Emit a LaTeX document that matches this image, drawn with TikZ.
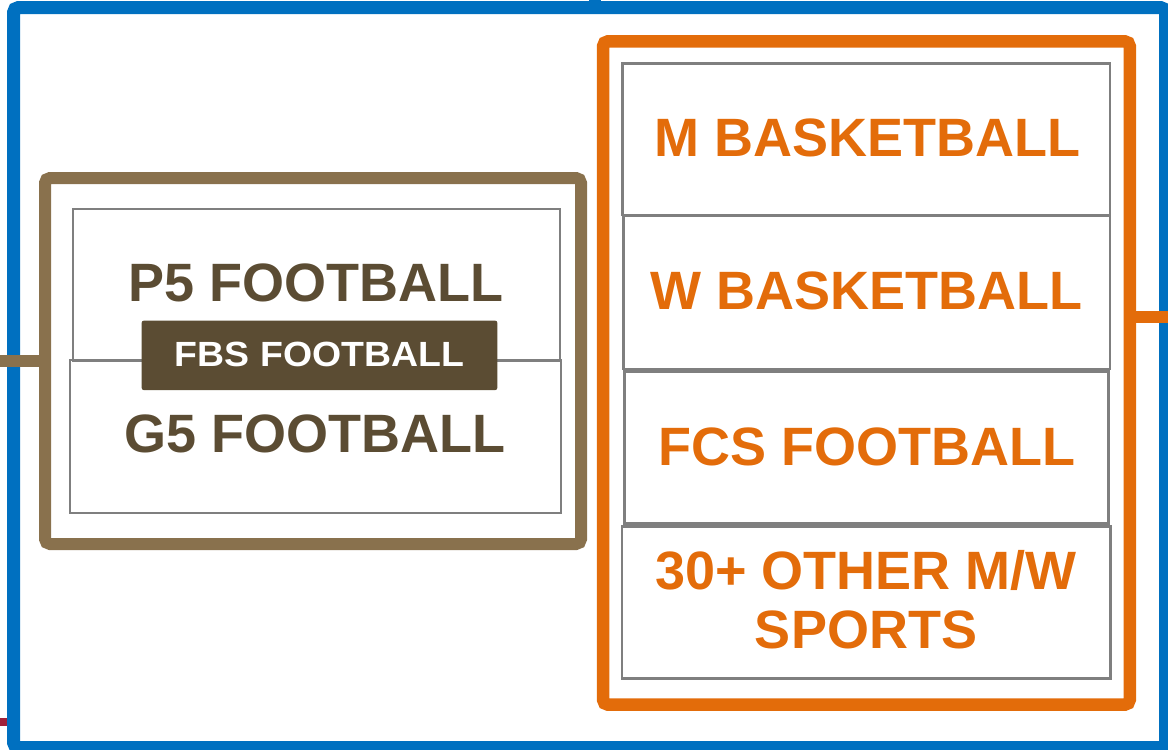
\documentclass[tikz,border=0pt]{standalone}
\usepackage{fontspec}
\setmainfont{Liberation Sans}
\definecolor{blueF}{HTML}{0070C0}
\definecolor{orangeF}{HTML}{E36C0A}
\definecolor{brownF}{HTML}{89714D}
\definecolor{brownD}{HTML}{5B4C33}
\definecolor{grayB}{HTML}{7F7F7F}
\definecolor{redS}{HTML}{A0213A}
\tikzset{
  frame/.style={draw=#1, rounded corners=5pt, inner sep=0pt},
  gbox/.style={draw=grayB, line width=2.5pt, inner sep=0pt},
  bigtxt/.style={text=#1, inner sep=0pt, align=center,
    font=\bfseries\fontsize{54}{58.3}\selectfont},
  fbslabel/.style={fill=brownD, text=white, rounded corners=2pt, inner sep=0pt,
    text depth=3pt, font=\bfseries\fontsize{35}{40}\selectfont}
}
\begin{document}
\begin{tikzpicture}[x=1pt,y=-1pt]
\useasboundingbox (0,0) rectangle (1168,750);
% small stubs under the outer frame
\coordinate (rs) at (0,722);
\coordinate (tn) at (595,0);
% outer blue frame
\node[frame=blueF, line width=13pt, minimum width=1152pt, minimum height=740pt] (outer) at (589.5,377.5) {};
\draw[redS, line width=8pt] (rs) -- (rs -| outer.west);
\draw[blueF, line width=11.5pt] (tn) -- (tn |- outer.north);
% left brown container
\node[frame=brownF, line width=12pt, minimum width=536pt, minimum height=366pt] (brown) at (313,361) {};
\coordinate (bl) at (0,360.5);
\draw[brownF, line width=12pt] (bl) -- (bl -| brown.west);
% right orange container
\node[frame=orangeF, line width=12.5pt, minimum width=526.7pt, minimum height=663.4pt] (orange) at (866.4,373) {};
\coordinate (or) at (1168,317);
\draw[orangeF, line width=12pt] (or -| orange.east) -- (or);
% left inner boxes
\node[gbox, minimum width=487pt, minimum height=152pt] (p5box) at (316.5,285) {};
\node[gbox, minimum width=491pt, minimum height=153pt] (g5box) at (315.5,436.5) {};
\node[bigtxt=brownD, anchor=base] (p5) at (315.7,301.7) {P5 FOOTBALL};
\node[bigtxt=brownD, anchor=base] (g5) at (315.2,452.7) {G5 FOOTBALL};
\node[fbslabel, minimum width=355.6pt, minimum height=69.3pt] (fbs) at (319.5,355.35) {\scalebox{1.07}[1]{FBS FOOTBALL}};
% right inner boxes
\node[gbox, minimum width=487.7pt, minimum height=151.7pt] (mbox) at (866.15,139.15) {};
\node[gbox, minimum width=486.7pt, minimum height=153pt] (wbox) at (866.65,292.5) {};
\node[gbox, minimum width=484pt, minimum height=151.6pt] (fcsbox) at (866.3,447.5) {};
\node[gbox, minimum width=488.7pt, minimum height=151.6pt] (othbox) at (866.35,602.5) {};
\node[bigtxt=orangeF, anchor=base] (m) at (867.2,156) {M BASKETBALL};
\node[bigtxt=orangeF, anchor=base] (w) at (866.2,309.3) {W BASKETBALL};
\node[bigtxt=orangeF, anchor=base] (fcs) at (866.7,465) {FCS FOOTBALL};
\node[bigtxt=orangeF, anchor=north] (oth) at (866,550.6) {30+ OTHER M/W\\SPORTS};
\end{tikzpicture}
\end{document}
